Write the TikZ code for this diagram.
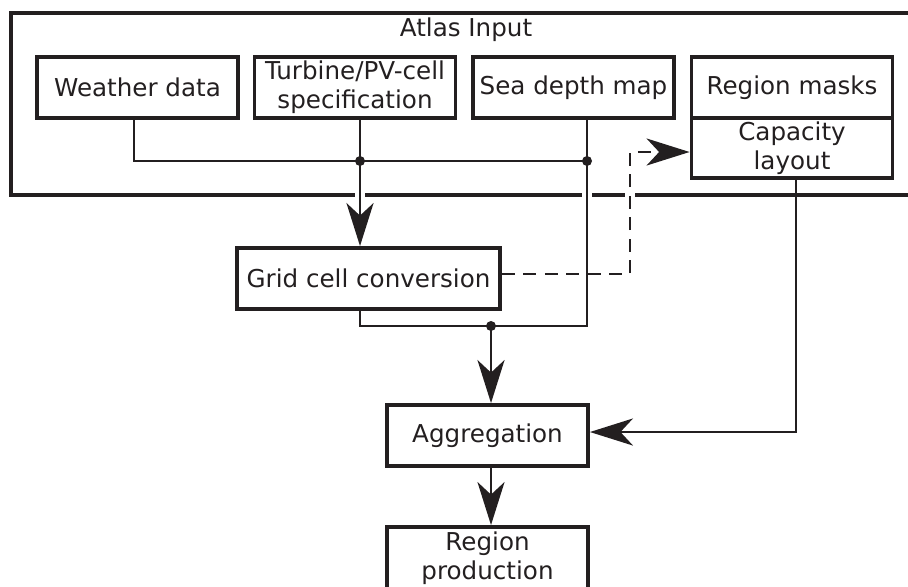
\documentclass[tikz,border=0pt]{standalone}
\usepackage{fontspec}
\setmainfont{DejaVu Sans}
\usetikzlibrary{arrows.meta}
\definecolor{ink}{RGB}{35,31,32}

\tikzset{
block/.style={draw, line width=2.2pt, minimum width=4.02cm, minimum height=1.22cm,
  inner sep=0pt, align=center, font=\fontsize{14}{16.6}\selectfont},
link/.style={line width=1.6pt},
flow/.style={link, -{Stealth[length=0.86cm, width=0.54cm, inset=0.25cm]}},
junction/.style={circle, fill, inner sep=0pt, minimum size=0.2cm},
gap/.style={fill=white, inner sep=0pt, minimum width=0.2cm, minimum height=0.14cm},
}

\begin{document}
\begin{tikzpicture}[x=0.02cm, y=-0.02cm, color=ink]
\useasboundingbox (0,0) rectangle (908,586);

\node[draw, line width=2.2pt, minimum width=18.28cm, minimum height=3.64cm] (atlas) at (468,104) {};
\node[font=\fontsize{14}{16.6}\selectfont] (title) at (466,30) {Atlas Input};

\node[block] (weather) at (137.5,87.5) {Weather data};
\node[block] (turbine) at (355,87.5) {Turbine/PV-cell\\specification};
\node[block] (sea) at (573.5,87.5) {Sea depth map};
\node[block] (masks) at (792,87.5) {Region masks};
\node[block, minimum height=1.2cm] (capacity) at (792,148) {Capacity\\layout};
\node[block, minimum width=5.26cm] (grid) at (368.5,278.5) {Grid cell conversion};
\node[block] (aggregation) at (487.5,435.5) {Aggregation};
\node[block, minimum height=1.26cm] (production) at (487.5,558.5) {Region\\production};

\coordinate (jturb) at (360,161);
\coordinate (jsea) at (587,161);
\coordinate (merge) at (491,326);

\node[gap] at (360,0 |- atlas.south) {};
\node[gap] at (587,0 |- atlas.south) {};
\node[gap] at (630,0 |- atlas.south) {};

\draw[flow] (360,0 |- turbine.south) -- (360,0 |- grid.north);
\draw[link] (587,0 |- sea.south) -- (587,326) -- (360,326) -- (360,0 |- grid.south);
\draw[link] (134,0 |- weather.south) |- (jsea);
\draw[flow] (merge) -- (merge |- aggregation.north);
\draw[flow, dash pattern=on 0.26cm off 0.17cm] (grid.east |- 0,274) -| (630,152) -- (capacity.west |- 0,152);
\draw[flow] (796,0 |- capacity.south) |- (aggregation.east |- 0,432);
\draw[flow] (491,0 |- aggregation.south) -- (491,0 |- production.north);

\node[junction] at (jturb) {};
\node[junction] at (jsea) {};
\node[junction] at (merge) {};
\end{tikzpicture}
\end{document}
